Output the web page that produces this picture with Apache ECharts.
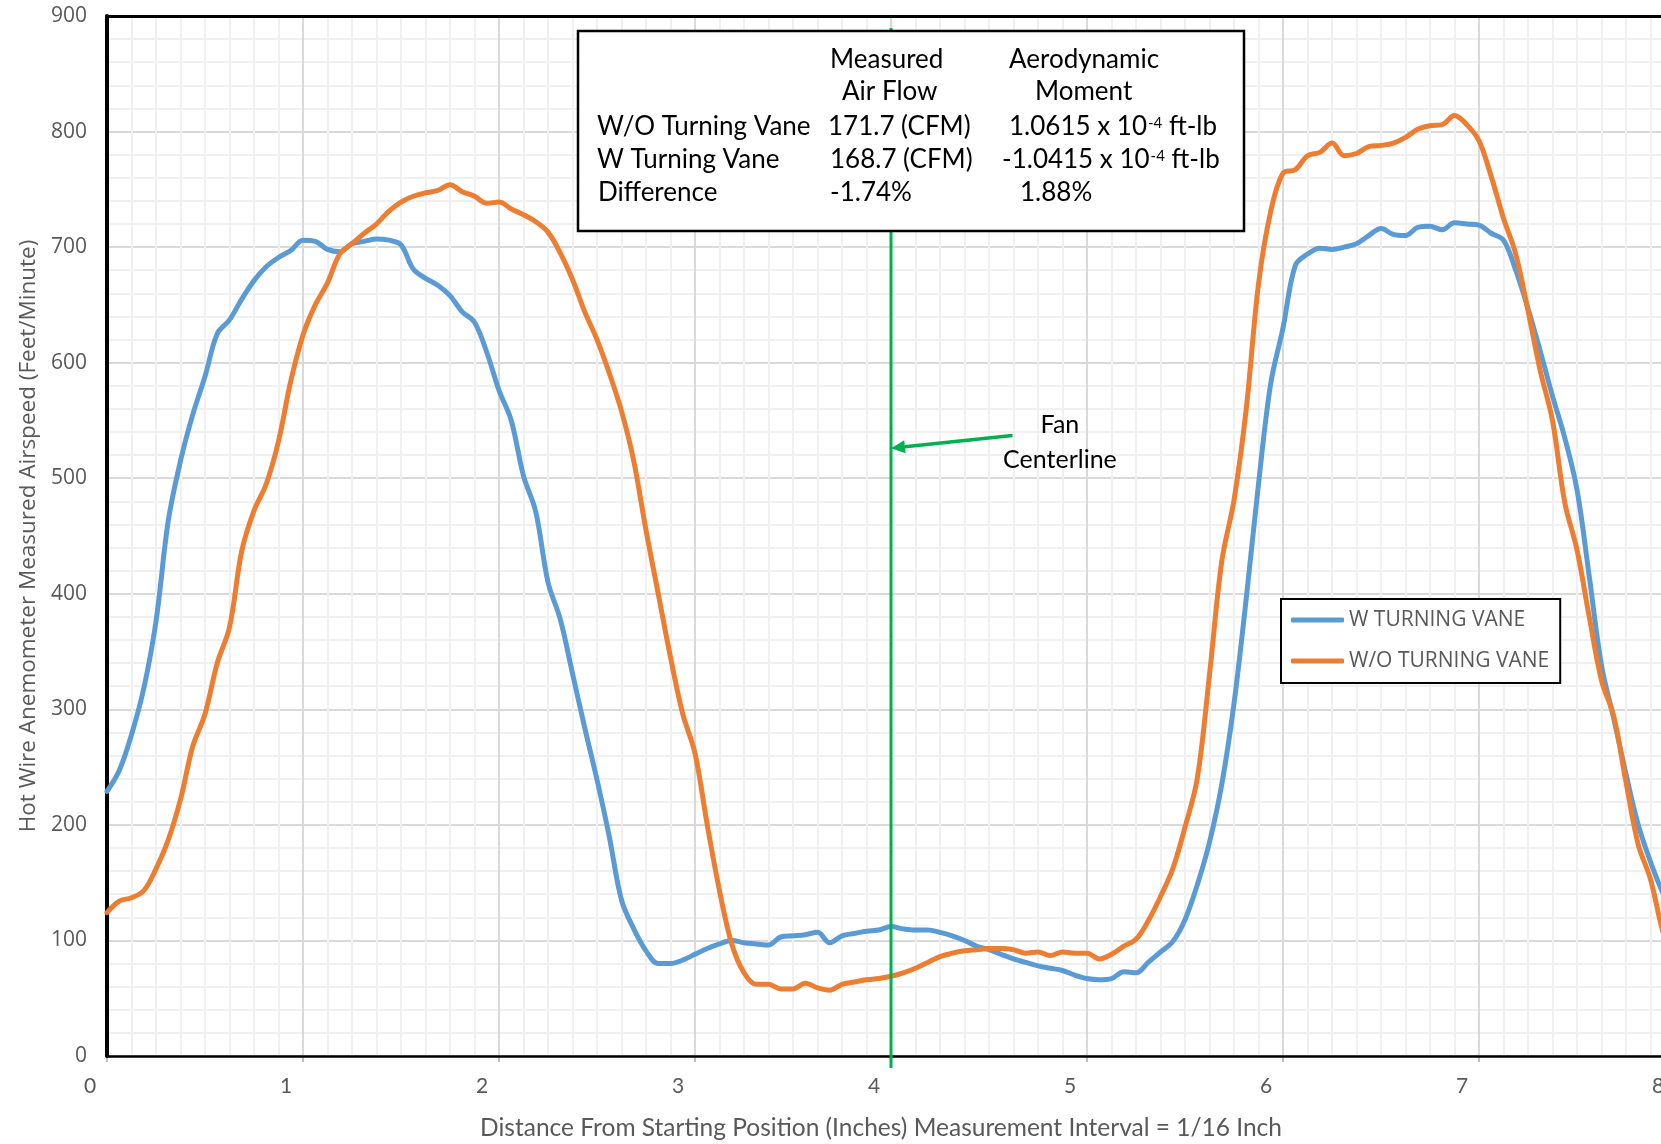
<!DOCTYPE html>
<html>
<head>
<meta charset="utf-8">
<script src="https://cdn.jsdelivr.net/npm/echarts@6/dist/echarts.min.js"></script>
<style>
html,body{margin:0;padding:0;background:#ffffff;}
#c{width:1661px;height:1144px;}
</style>
</head>
<body>
<div id="c"></div>
<script>
// Measurement positions (inches), interval = 1/16 inch
const positions = [
  0,0.0625,0.125,0.1875,0.25,0.3125,0.375,0.4375,0.5,0.5625,0.625,0.6875,0.75,0.8125,0.875,0.9375,
  1,1.0625,1.125,1.1875,1.25,1.3125,1.375,1.4375,1.5,1.5625,1.625,1.6875,1.75,1.8125,1.875,1.9375,
  2,2.0625,2.125,2.1875,2.25,2.3125,2.375,2.4375,2.5,2.5625,2.625,2.6875,2.75,2.8125,2.875,2.9375,
  3,3.0625,3.125,3.1875,3.25,3.3125,3.375,3.4375,3.5,3.5625,3.625,3.6875,3.75,3.8125,3.875,3.9375,
  4,4.0625,4.125,4.1875,4.25,4.3125,4.375,4.4375,4.5,4.5625,4.625,4.6875,4.75,4.8125,4.875,4.9375,
  5,5.0625,5.125,5.1875,5.25,5.3125,5.375,5.4375,5.5,5.5625,5.625,5.6875,5.75,5.8125,5.875,5.9375,
  6,6.0625,6.125,6.1875,6.25,6.3125,6.375,6.4375,6.5,6.5625,6.625,6.6875,6.75,6.8125,6.875,6.9375,
  7,7.0625,7.125,7.1875,7.25,7.3125,7.375,7.4375,7.5,7.5625,7.625,7.6875,7.75,7.8125,7.875,7.9375,
  8
];

// W TURNING VANE (feet/minute)
const withVane = [
  229,247,278,318,376,463,515,555,588,625,637,655,671,683,691,697,
  706,705,698,696,703,705,707,706,702,681,673,667,658,644,635,609,
  576,550,502,471,410,378,331,284,239,190,135,110,91,80,80,83,
  88,93,97,100,98,97,96,103,104,105,107,98,104,106,108,109,
  112,110,109,109,107,104,100,95,92,88,84,81,78,76,74,70,
  67,66,67,73,72,81,90,99,118,148,185,235,305,396,495,582,
  630,684,694,699,698,700,703,710,716,711,710,717,718,715,721,720,
  719,712,706,680,647,610,571,535,490,415,338,292,244,200,168,141,
  118
];

// W/O TURNING VANE (feet/minute)
const withoutVane = [
  124,134,137,143,162,187,222,268,296,340,371,437,472,495,532,584,
  624,650,669,694,703,712,720,731,739,744,747,749,754,748,744,738,
  739,733,728,722,713,695,672,644,620,591,558,515,455,400,345,296,
  262,200,143,97,72,62,62,58,58,63,59,57,62,64,66,67,
  69,72,76,81,86,89,91,92,93,93,92,89,90,87,90,89,
  89,84,88,95,101,117,138,162,198,240,330,428,481,560,668,731,
  764,767,779,782,790,779,781,787,788,790,795,802,805,806,814,806,
  792,761,725,694,645,593,550,479,438,380,325,294,237,183,153,108,
  80
];

const seriesNames = ['W TURNING VANE', 'W/O TURNING VANE'];
const xTitle = 'Distance From Starting Position (Inches) Measurement Interval = 1/16 Inch';
const yTitle = 'Hot Wire Anemometer Measured Airspeed (Feet/Minute)';

// annotation
const fanCenterX = 4.0;
const fanLabel = 'Fan\nCenterline';
const fanLabelAt = [4.862, 531];
const arrowTail = [4.62, 537];
const arrowTip = [4.0, 526];

// summary table
const tableHead = [['Measured', 'Aerodynamic'], ['Air Flow', 'Moment']];
const tableRows = [
  ['W/O Turning Vane', '171.7 (CFM)', '1.0615 x 10{s|-4} ft-lb'],
  ['W Turning Vane', '168.7 (CFM)', '-1.0415 x 10{s|-4} ft-lb'],
  ['Difference', '-1.74%', '1.88%']
];

const BLUE = '#5B9BD5', ORANGE = '#ED7D31', GREEN = '#00B050', GREY = '#595959';

const pair = (vals) => positions.map((x, i) => [x, vals[i]]);

const frameAxis = (pos, w, min, max) => ({
  position: pos, min: min, max: max, z: 3,
  axisLine: { show: true, onZero: false, lineStyle: { color: '#000', width: w } },
  axisTick: { show: false }, axisLabel: { show: false }, splitLine: { show: false }
});

const option = {
  animation: false,
  backgroundColor: '#ffffff',
  grid: { left: 107, top: 16, width: 1568, height: 1040, containLabel: false, outerBoundsMode: 'none' },
  legend: {
    data: seriesNames,
    orient: 'vertical',
    left: 1281, top: 599,
    padding: [10, 11, 11, 10],
    itemGap: 19,
    itemWidth: 53, itemHeight: 5,
    icon: 'roundRect',
    backgroundColor: '#ffffff',
    borderColor: '#000', borderWidth: 2,
    textStyle: { fontFamily: 'Open Sans', fontSize: 21, color: GREY, lineHeight: 22 }
  },
  xAxis: [
    {
      type: 'value', min: 0, max: 8, interval: 1,
      name: xTitle, nameLocation: 'middle', nameGap: 60,
      nameTextStyle: { fontFamily: 'Lato', fontSize: 24.5, color: GREY, padding: [0, 20, 0, 0] },
      axisLine: { show: false },
      axisTick: { show: true, length: 6, lineStyle: { color: '#bfbfbf', width: 2 } },
      axisLabel: { fontFamily: 'Lato', fontSize: 21, color: GREY, margin: 20, padding: [0, 34, 0, 0] },
      splitLine: { show: true, lineStyle: { color: '#d9d9d9', width: 2 } },
      minorTick: { show: false, splitNumber: 8 },
      minorSplitLine: { show: true, lineStyle: { color: '#f0f0f0', width: 2 } }
    },
    Object.assign({ type: 'value' }, frameAxis('top', 3, 0, 8)),
    Object.assign({ type: 'value' }, frameAxis('bottom', 2.5, 0, 8))
  ],
  yAxis: [
    {
      type: 'value', min: 0, max: 900, interval: 100,
      name: yTitle, nameLocation: 'middle', nameGap: 67, nameRotate: 90,
      nameTextStyle: { fontFamily: 'Open Sans', fontSize: 22.5, color: GREY },
      axisLine: { show: false },
      axisTick: { show: false },
      axisLabel: { fontFamily: 'Open Sans', fontSize: 21, color: GREY, margin: 20 },
      splitLine: { show: true, lineStyle: { color: '#d9d9d9', width: 2 } },
      minorTick: { show: false, splitNumber: 5 },
      minorSplitLine: { show: true, lineStyle: { color: '#f0f0f0', width: 2 } }
    },
    Object.assign({ type: 'value' }, frameAxis('left', 4, 0, 900))
  ],
  series: [
    {
      name: seriesNames[0], type: 'line', xAxisIndex: 0, yAxisIndex: 0,
      data: pair(withVane), showSymbol: false, smooth: 0.35,
      lineStyle: { color: BLUE, width: 5, cap: 'round', join: 'round' },
      itemStyle: { color: BLUE }
    },
    {
      name: seriesNames[1], type: 'line', xAxisIndex: 0, yAxisIndex: 0,
      data: pair(withoutVane), showSymbol: false, smooth: 0.35,
      lineStyle: { color: ORANGE, width: 5, cap: 'round', join: 'round' },
      itemStyle: { color: ORANGE }
    }
  ]
};

const chart = echarts.init(document.getElementById('c'), null, { renderer: 'canvas' });
chart.setOption(option);

const P = (pt) => chart.convertToPixel({ xAxisIndex: 0, yAxisIndex: 0 }, pt);

// fan centerline + arrow
const fx = P([fanCenterX, 0])[0];
const tail = P(arrowTail), tip = P(arrowTip);
const dx = tip[0] - tail[0], dy = tip[1] - tail[1];
const len = Math.sqrt(dx * dx + dy * dy);
const ux = dx / len, uy = dy / len, nx = -uy, ny = ux;
const headL = 14, headW = 6.5;
const base = [tip[0] - ux * headL, tip[1] - uy * headL];
const lab = P(fanLabelAt);

const tableFont = { fontFamily: 'Lato', fontSize: 26, fill: '#000' };
const richSup = { s: { fontFamily: 'Lato', fontSize: 15, fill: '#000', verticalAlign: 'top', padding: [2, 0, 0, 1] } };
const colX = [[597, 830, 1009], [597, 828, 1009], [597, 830, 1002], [598, 830, 1020]];
const headX = [[830, 1009], [842, 1035]];
const headY = [60, 92];
const rowY = [127, 160, 193];

const tableEls = [];
tableHead.forEach((row, r) => {
  row.forEach((t, c) => {
    tableEls.push({ type: 'text', x: headX[r][c], y: headY[r], z: 20,
      style: Object.assign({ text: t, verticalAlign: 'middle', align: 'left' }, tableFont) });
  });
});
tableRows.forEach((row, r) => {
  row.forEach((t, c) => {
    tableEls.push({ type: 'text', x: colX[r + 1][c], y: rowY[r], z: 20,
      style: Object.assign({ text: t, verticalAlign: 'middle', align: 'left', rich: richSup }, tableFont) });
  });
});

chart.setOption({
  graphic: [
    { type: 'line', z: 10, shape: { x1: fx, y1: 28, x2: fx, y2: 1068 },
      style: { stroke: GREEN, lineWidth: 3 } },
    { type: 'line', z: 10, shape: { x1: tail[0], y1: tail[1], x2: base[0], y2: base[1] },
      style: { stroke: GREEN, lineWidth: 3.5 } },
    { type: 'polygon', z: 10, shape: { points: [tip,
        [base[0] + nx * headW, base[1] + ny * headW],
        [base[0] - nx * headW, base[1] - ny * headW]] },
      style: { fill: GREEN } },
    { type: 'text', z: 10, x: lab[0], y: lab[1],
      style: { text: fanLabel, align: 'center', verticalAlign: 'middle', lineHeight: 35,
        fontFamily: 'Lato', fontSize: 25, fill: '#000' } },
    { type: 'rect', z: 19, shape: { x: 578, y: 31, width: 666, height: 200 },
      style: { fill: '#ffffff', stroke: '#000', lineWidth: 2.5 } }
  ].concat(tableEls)
});
</script>
</body>
</html>
